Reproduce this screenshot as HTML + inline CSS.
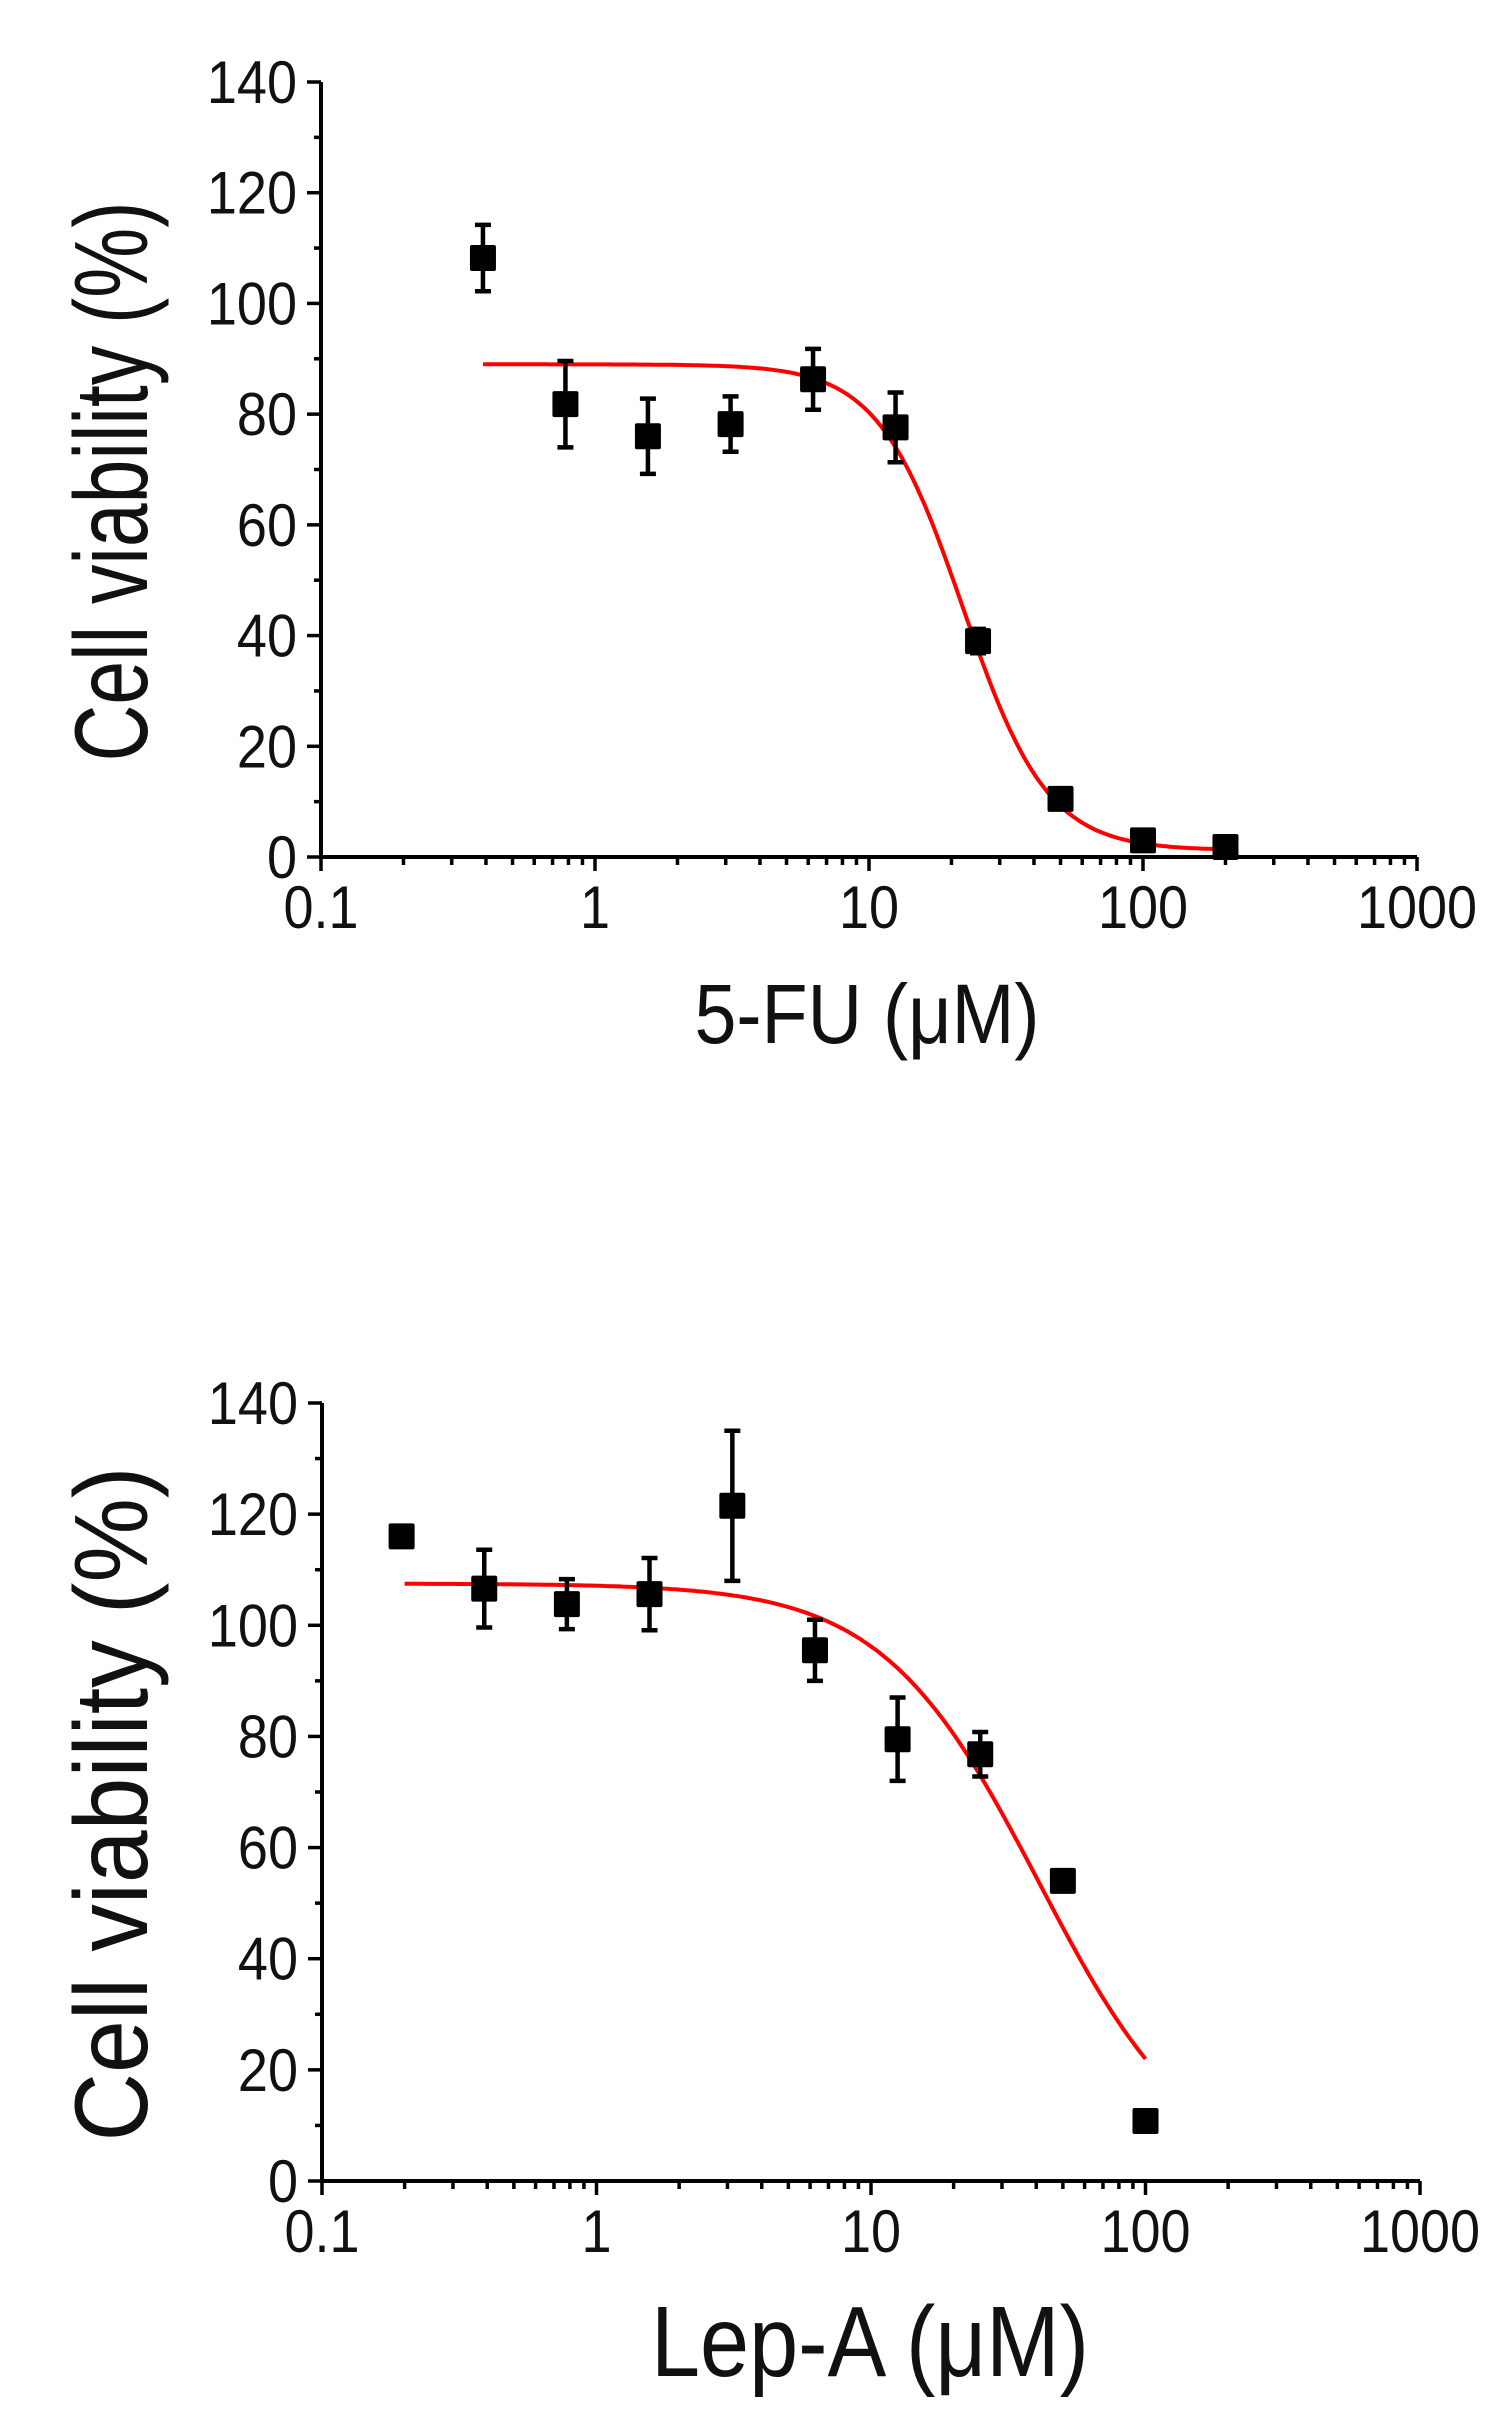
<!DOCTYPE html>
<html><head><meta charset="utf-8"><style>
html,body{margin:0;padding:0;background:#fff;}
svg{display:block;}
text{font-family:"Liberation Sans",Arial,sans-serif;fill:#111;}
</style></head><body>
<svg id="fig" width="1510" height="2422" viewBox="0 0 1510 2422" xmlns="http://www.w3.org/2000/svg"></svg>
<script>
// Panel A: 5-FU
const fuConc = [0.39, 0.78, 1.56, 3.125, 6.25, 12.5, 25, 50, 100, 200];
const fuViab = [108.2, 81.8, 76, 78.2, 86.3, 77.6, 39, 10.5, 3, 1.8];
const fuErr  = [6, 7.8, 6.8, 5, 5.5, 6.3, 2.2, 1.2, 1, 0.8];
const fuFit  = [89, 1.2, 22, 2.8]; // top, bottom, IC50, hill
const fuFitRange = [0.39, 200];
// Panel B: Lep-A
const lepConc = [0.195, 0.39, 0.78, 1.56, 3.125, 6.25, 12.5, 25, 50, 100];
const lepViab = [116, 106.6, 103.8, 105.6, 121.5, 95.5, 79.5, 76.8, 54, 10.8];
const lepErr  = [1, 7, 4.5, 6.5, 13.5, 5.5, 7.5, 4, 1, 1];
const lepFit  = [107.5, 0, 40.9, 1.52];
const lepFitRange = [0.2, 100];
const yTicks = [0, 20, 40, 60, 80, 100, 120, 140];
const xTicks = [0.1, 1, 10, 100, 1000];
const xTickLabels = ["0.1", "1", "10", "100", "1000"];

const NS = "http://www.w3.org/2000/svg";
const svg = document.getElementById('fig');
function mk(tag, attrs, parent) {
  const e = document.createElementNS(NS, tag);
  for (const k in attrs) e.setAttribute(k, attrs[k]);
  parent.appendChild(e);
  return e;
}

function panel(p) {
  const g = mk('g', {}, svg);
  
  
  const xs = v => p.x0 + (Math.log10(v) + 1) * (p.x1 - p.x0) / 4;
  const ys = v => p.y0 - v * (p.y0 - p.y140) / 140;

  const ax = mk('path', {d: `M${p.x0} ${p.y140} V${p.y0} H${p.x1}`, stroke: '#000', 'stroke-width': 4, fill: 'none'}, g);
  
  

  for (let v = 0; v <= 140; v += 10) {
    const major = v % 20 === 0;
    const t = mk('line', {x1: p.x0 - (major ? 14 : 7), x2: p.x0, y1: ys(v), y2: ys(v), stroke: '#000', 'stroke-width': 3.5}, g);
    
    
  }
  yTicks.forEach(v => {
    const ex = p.x0 - 24;
    const t = mk('text', {x: ex, y: ys(v) + 21, 'text-anchor': 'end', 'font-size': 60, transform: `translate(${ex} 0) scale(0.9 1) translate(${-ex} 0)`}, g);
    t.textContent = String(v);
    
    
  });
  for (let d = -1; d <= 3; d++) {
    for (let m = 1; m <= 9; m++) {
      if (d === 3 && m > 1) break;
      const v = m * Math.pow(10, d);
      const major = m === 1;
      const t = mk('line', {x1: xs(v), x2: xs(v), y1: p.y0, y2: p.y0 + (major ? 14 : 8), stroke: '#000', 'stroke-width': 3.5}, g);
      
      
    }
  }
  xTicks.forEach((v, i) => {
    const cx = xs(v);
    const t = mk('text', {x: cx, y: p.y0 + 71, 'text-anchor': 'middle', 'font-size': 60, transform: `translate(${cx} 0) scale(0.9 1) translate(${-cx} 0)`}, g);
    t.textContent = xTickLabels[i];
    
    
  });
  const yt = mk('text', {x: 0, y: 0, 'text-anchor': 'middle', 'font-size': 104, textLength: p.ytLen, lengthAdjust: 'spacingAndGlyphs', transform: `translate(${p.ytX} ${(p.y0 + p.y140) / 2 + 12}) rotate(-90)`}, g);
  yt.textContent = 'Cell viability (%)';
  
  
  const xt = mk('text', {x: p.xtX, y: p.xtY, 'text-anchor': 'middle', 'font-size': p.xtSize, textLength: p.xtLen, lengthAdjust: 'spacingAndGlyphs'}, g);
  xt.textContent = p.xtitle;
  
  

  const [top, bot, ic, h] = p.fit;
  let d = '';
  const l0 = Math.log10(p.fitRange[0]), l1 = Math.log10(p.fitRange[1]);
  for (let i = 0; i <= 200; i++) {
    const c = Math.pow(10, l0 + (l1 - l0) * i / 200);
    const v = bot + (top - bot) / (1 + Math.pow(c / ic, h));
    d += (i ? 'L' : 'M') + xs(c).toFixed(1) + ' ' + ys(v).toFixed(1);
  }
  const fc = mk('path', {d, stroke: '#f00', 'stroke-width': 4, fill: 'none'}, g);
  
  

  p.conc.forEach((c, i) => {
    const cx = xs(c), cy = ys(p.viab[i]);
    const e = p.err[i];
    const eb = mk('path', {d: `M${cx} ${ys(p.viab[i] + e)} V${ys(p.viab[i] - e)} M${cx - 8} ${ys(p.viab[i] + e)} H${cx + 8} M${cx - 8} ${ys(p.viab[i] - e)} H${cx + 8}`, stroke: '#000', 'stroke-width': 4.5, fill: 'none'}, g);
    
    
    const sq = mk('rect', {x: cx - 13, y: cy - 13, width: 26, height: 26, fill: '#000', rx: 2}, g);
    
    
  });
}

panel({name: 'chart-5fu', x0: 321, x1: 1417, y0: 857, y140: 82, conc: fuConc, viab: fuViab, err: fuErr, fit: fuFit, fitRange: fuFitRange,
  ytX: 147, ytLen: 560, xtitle: '5-FU (μM)', xtX: 867, xtY: 1043, xtSize: 84, xtLen: 345});
panel({name: 'chart-lep-a', x0: 322, x1: 1420, y0: 2181, y140: 1403, conc: lepConc, viab: lepViab, err: lepErr, fit: lepFit, fitRange: lepFitRange,
  ytX: 147, ytLen: 675, xtitle: 'Lep-A (μM)', xtX: 870, xtY: 2376, xtSize: 100, xtLen: 438});
</script>
</body></html>
